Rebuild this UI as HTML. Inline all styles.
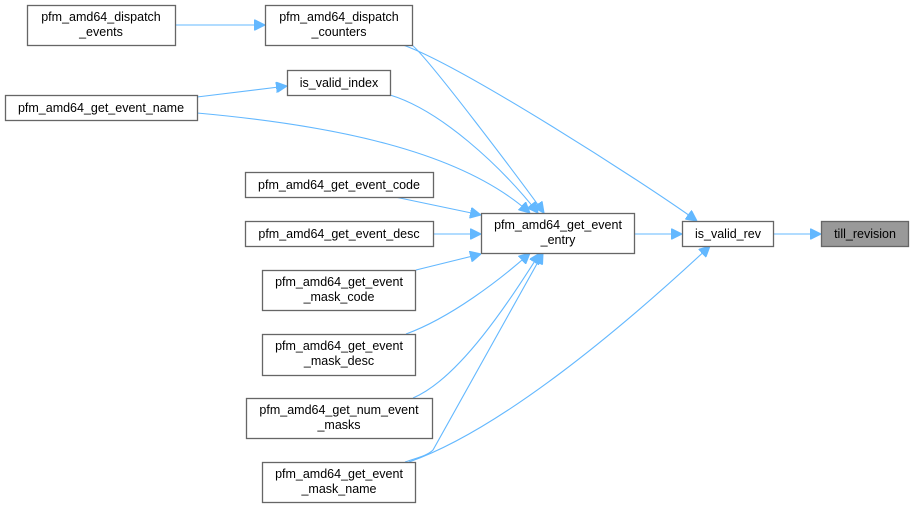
<!DOCTYPE html>
<html><head><meta charset="utf-8"><style>
html,body{margin:0;padding:0;background:#fff;}
svg{display:block;}
text{font-family:"Liberation Sans",Helvetica,Arial,sans-serif;font-size:12.5px;fill:#000;}
.n{fill:#fff;stroke:#666;stroke-width:1.3;}
.e{fill:none;stroke:#63b8ff;stroke-width:1.1;}
</style></head><body>
<svg width="913" height="508" viewBox="0 0 913 508" xmlns="http://www.w3.org/2000/svg">
<defs>
<marker id="a" viewBox="0 0 10 10" refX="10" refY="5" markerWidth="11" markerHeight="11" markerUnits="userSpaceOnUse" orient="auto">
<path d="M0,0 L10,5 L0,10 z" fill="#63b8ff" stroke="#63b8ff"/>
</marker>
</defs>
<path class="e" marker-end="url(#a)" d="M175,25 L265,25"/>
<path class="e" marker-end="url(#a)" d="M197,97 L287,86"/>
<path class="e" marker-end="url(#a)" d="M403,45 C460,65 640,180 697,221"/>
<path class="e" marker-end="url(#a)" d="M412,45 C430,60 520,180 544,213"/>
<path class="e" marker-end="url(#a)" d="M390,95 C440,110 500,165 538,213"/>
<path class="e" marker-end="url(#a)" d="M197,113 C330,125 460,150 530,213"/>
<path class="e" marker-end="url(#a)" d="M395,197 L481,215"/>
<path class="e" marker-end="url(#a)" d="M433,234 L481,234"/>
<path class="e" marker-end="url(#a)" d="M416,270 L481,254"/>
<path class="e" marker-end="url(#a)" d="M406,334 C450,318 500,280 530,253"/>
<path class="e" marker-end="url(#a)" d="M413,398 C460,378 510,300 540,253"/>
<path class="e" marker-end="url(#a)" d="M405,462 C420,457 428,455 433,450 L543,253"/>
<path class="e" marker-end="url(#a)" d="M409,462 C500,430 620,330 710,246"/>
<path class="e" marker-end="url(#a)" d="M634,234 L682,234"/>
<path class="e" marker-end="url(#a)" d="M773,234 L821,234"/>
<rect class="n" x="27.5" y="5.5" width="148" height="40"/>
<text x="101" y="21" text-anchor="middle">pfm_amd64_dispatch</text>
<text x="101" y="36" text-anchor="middle">_events</text>
<rect class="n" x="265.5" y="5.5" width="147" height="40"/>
<text x="339" y="21" text-anchor="middle">pfm_amd64_dispatch</text>
<text x="339" y="36" text-anchor="middle">_counters</text>
<rect class="n" x="287.5" y="70.5" width="103" height="25"/>
<text x="339" y="87" text-anchor="middle">is_valid_index</text>
<rect class="n" x="5.5" y="95.5" width="192" height="25"/>
<text x="101" y="112" text-anchor="middle">pfm_amd64_get_event_name</text>
<rect class="n" x="245.5" y="172.5" width="188" height="25"/>
<text x="339" y="189" text-anchor="middle">pfm_amd64_get_event_code</text>
<rect class="n" x="245.5" y="221.5" width="188" height="25"/>
<text x="339" y="238" text-anchor="middle">pfm_amd64_get_event_desc</text>
<rect class="n" x="481.5" y="213.5" width="153" height="40"/>
<text x="558" y="229" text-anchor="middle">pfm_amd64_get_event</text>
<text x="558" y="244" text-anchor="middle">_entry</text>
<rect class="n" x="262.5" y="270.5" width="153" height="40"/>
<text x="339" y="286" text-anchor="middle">pfm_amd64_get_event</text>
<text x="339" y="301" text-anchor="middle">_mask_code</text>
<rect class="n" x="262.5" y="334.5" width="153" height="41"/>
<text x="339" y="350" text-anchor="middle">pfm_amd64_get_event</text>
<text x="339" y="365" text-anchor="middle">_mask_desc</text>
<rect class="n" x="246.5" y="398.5" width="186" height="40"/>
<text x="339" y="414" text-anchor="middle">pfm_amd64_get_num_event</text>
<text x="339" y="429" text-anchor="middle">_masks</text>
<rect class="n" x="262.5" y="462.5" width="153" height="40"/>
<text x="339" y="478" text-anchor="middle">pfm_amd64_get_event</text>
<text x="339" y="493" text-anchor="middle">_mask_name</text>
<rect class="n" x="682.5" y="221.5" width="91" height="25"/>
<text x="728" y="238" text-anchor="middle">is_valid_rev</text>
<rect x="821.5" y="221.5" width="87" height="25" fill="#999" stroke="#666" stroke-width="1.3"/>
<text x="865" y="238" text-anchor="middle">till_revision</text>
</svg>
</body></html>
